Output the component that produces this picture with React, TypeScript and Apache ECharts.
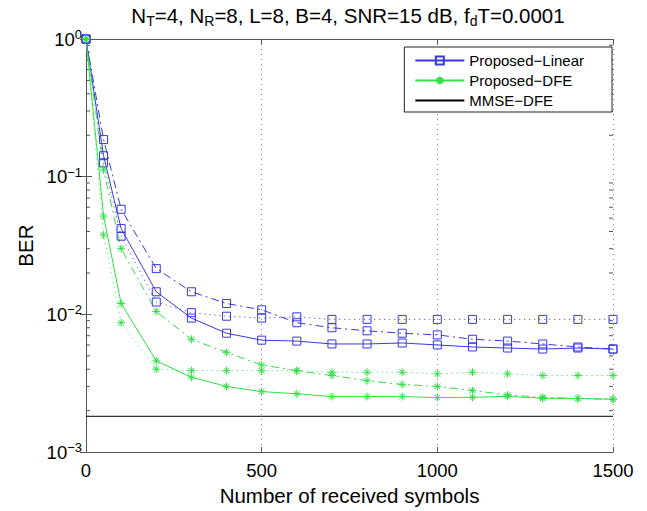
import React, { useEffect, useRef } from 'react';
import * as echarts from 'echarts';

const xValues = [0, 50, 100, 200, 300, 400, 500, 600, 700, 800, 900, 1000, 1100, 1200, 1300, 1400, 1500];
const linearSolid = [1, 0.142, 0.042, 0.0146, 0.0094, 0.0073, 0.0065, 0.0064, 0.0061, 0.0061, 0.0062, 0.006, 0.0058, 0.0057, 0.0056, 0.0057, 0.0056];
const linearDashDot = [1, 0.186, 0.058, 0.0215, 0.0146, 0.012, 0.0108, 0.0087, 0.008, 0.0076, 0.0073, 0.0071, 0.0066, 0.0064, 0.0061, 0.0058, 0.0056];
const linearDotted = [1, 0.126, 0.037, 0.0123, 0.0103, 0.0097, 0.0094, 0.0096, 0.0092, 0.0092, 0.0092, 0.0092, 0.0092, 0.0092, 0.0092, 0.0092, 0.0092];
const dfeSolid = [1, 0.0518, 0.012, 0.0046, 0.0035, 0.003, 0.00275, 0.00265, 0.00253, 0.00253, 0.00253, 0.00249, 0.0025, 0.00254, 0.00246, 0.00245, 0.00242];
const dfeDashDot = [1, 0.112, 0.03, 0.0105, 0.0066, 0.0053, 0.0043, 0.0039, 0.0036, 0.0033, 0.0031, 0.003, 0.0028, 0.0026, 0.0025, 0.00245, 0.00242];
const dfeDotted = [1, 0.0378, 0.0087, 0.004, 0.0039, 0.0039, 0.0039, 0.0039, 0.0038, 0.0038, 0.0038, 0.0037, 0.0038, 0.0037, 0.0036, 0.0036, 0.0036];
const mmseX = [0, 1500];
const mmseBer = [0.00182, 0.00182];

const xTicks = [0, 500, 1000, 1500];
const yTickExponents = [0, -1, -2, -3];
const yMinorTicks = [
  0.002, 0.003, 0.004, 0.005, 0.006, 0.007, 0.008, 0.009,
  0.02, 0.03, 0.04, 0.05, 0.06, 0.07, 0.08, 0.09,
  0.2, 0.3, 0.4, 0.5, 0.6, 0.7, 0.8, 0.9,
];
const legendNames = ['Proposed\u2212Linear', 'Proposed\u2212DFE', 'MMSE\u2212DFE'];

const FONT = '"Liberation Sans", Arial, Helvetica, sans-serif';
const BLUE = '#3a3ae0';
const GREEN = '#30e048';
const AXIS = '#555';
const STAR = 'path://M0,-1L0,1M-1,0L1,0M-0.7,-0.7L0.7,0.7M-0.7,0.7L0.7,-0.7';

function pairs(xs: number[], ys: number[]) {
  return xs.map((x, i) => [x, ys[i]]);
}

function lineSeries(name: string, ys: number[], color: string, dash: any, symbol: string) {
  return {
    name,
    type: 'line',
    data: pairs(xValues, ys),
    symbol,
    symbolSize: 8,
    showSymbol: true,
    lineStyle: { color, width: 1, type: dash },
    itemStyle: {
      color: symbol === 'rect' ? 'rgba(0,0,0,0)' : color,
      borderColor: color,
      borderWidth: 1,
    },
    emphasis: { disabled: true },
    z: 3,
  };
}

export default function App() {
  const ref = useRef<HTMLDivElement>(null);
  useEffect(() => {
    if (!ref.current) return;
    const chart = echarts.init(ref.current, null, { renderer: 'svg' });
    const expLabel = (e: number) => (e < 0 ? '\u2212' + Math.abs(e) : String(e));
    chart.setOption({
      animation: false,
      backgroundColor: '#fff',
      textStyle: { fontFamily: FONT },
      grid: { left: 86, right: 34, top: 39, bottom: 54, containLabel: false },
      graphic: [
        {
          type: 'text',
          x: 348,
          y: 15,
          style: {
            text: '{m|N}{s|T}{m|=4, N}{s|R}{m|=8, L=8, B=4, SNR=15 dB, f}{s|d}{m|T=0.0001}',
            align: 'center',
            verticalAlign: 'middle',
            rich: {
              m: { fontSize: 20.5, lineHeight: 26, fontFamily: FONT, fill: '#000', color: '#000' },
              s: { fontSize: 14, lineHeight: 8, verticalAlign: 'bottom', fontFamily: FONT, fill: '#000', color: '#000' },
            },
          },
        },
      ],
      legend: {
        data: legendNames,
        orient: 'vertical',
        right: 35,
        top: 47,
        itemWidth: 49,
        itemHeight: 10,
        itemGap: 5,
        padding: [6, 28, 4, 10],
        borderColor: '#222',
        borderWidth: 1,
        borderRadius: 0,
        backgroundColor: '#fff',
        textStyle: { fontSize: 15, fontFamily: FONT, color: '#000' },
        selectedMode: false,
      },
      xAxis: [
        {
          type: 'value',
          min: 0,
          max: 1500,
          interval: 500,
          name: 'Number of received symbols',
          nameLocation: 'middle',
          nameGap: 31,
          nameTextStyle: { fontSize: 20.5, fontFamily: FONT, color: '#000' },
          axisLine: { show: true, lineStyle: { color: AXIS, width: 1 } },
          axisTick: { show: true, inside: true, length: 5, lineStyle: { color: AXIS } },
          axisLabel: {
            fontSize: 18.5,
            fontFamily: FONT,
            color: '#000',
            margin: 9,
            formatter: (v: number) => (xTicks.includes(v) ? String(v) : ''),
          },
          splitLine: { show: true, lineStyle: { color: '#888', type: [1, 4], width: 1 } },
        },
        {
          type: 'value',
          position: 'top',
          min: 0,
          max: 1500,
          interval: 500,
          axisLine: { show: true, lineStyle: { color: AXIS, width: 1 } },
          axisTick: { show: true, inside: true, length: 5, lineStyle: { color: AXIS } },
          axisLabel: { show: false },
          splitLine: { show: false },
        },
      ],
      yAxis: [
        {
          type: 'log',
          logBase: 10,
          min: 0.001,
          max: 1,
          name: 'BER',
          nameLocation: 'middle',
          nameGap: 48,
          nameTextStyle: { fontSize: 20.5, fontFamily: FONT, color: '#000' },
          axisLine: { show: true, lineStyle: { color: AXIS, width: 1 } },
          axisTick: { show: true, inside: true, length: 6, lineStyle: { color: AXIS } },
          axisLabel: {
            margin: 4,
            formatter: (v: number) => {
              const e = Math.round(Math.log10(v));
              if (!yTickExponents.includes(e)) return '';
              return '{b|10}{e|' + expLabel(e) + '}';
            },
            rich: {
              b: { fontSize: 18.5, lineHeight: 22, fontFamily: FONT, color: '#000' },
              e: { fontSize: 13, lineHeight: 8, verticalAlign: 'top', fontFamily: FONT, color: '#000' },
            },
          },
          splitLine: { show: false },
        },
        {
          type: 'log',
          logBase: 10,
          min: 0.001,
          max: 1,
          position: 'right',
          axisLine: { show: true, lineStyle: { color: AXIS, width: 1 } },
          axisTick: { show: true, inside: true, length: 6, lineStyle: { color: AXIS } },
          axisLabel: { show: false },
          splitLine: { show: false },
        },
      ],
      series: [
        {
          name: 'minorTicks',
          type: 'custom',
          silent: true,
          z: 1,
          data: yMinorTicks.map((v) => [0, v]),
          renderItem: (params: any, api: any) => {
            const v = api.value(1);
            const l = api.coord([0, v]);
            const r = api.coord([1500, v]);
            const st = { stroke: AXIS, lineWidth: 1 };
            return {
              type: 'group',
              children: [
                { type: 'line', shape: { x1: l[0], y1: l[1], x2: l[0] + 4, y2: l[1] }, style: st },
                { type: 'line', shape: { x1: r[0] - 4, y1: r[1], x2: r[0], y2: r[1] }, style: st },
              ],
            };
          },
        },
        {
          name: legendNames[2],
          type: 'line',
          data: pairs(mmseX, mmseBer),
          symbol: 'none',
          lineStyle: { color: '#000', width: 1 },
          itemStyle: { color: 'rgba(0,0,0,0)', borderColor: 'rgba(0,0,0,0)' },
          z: 2,
        },
        lineSeries(legendNames[0], linearSolid, BLUE, 'solid', 'rect'),
        lineSeries('linearDashDot', linearDashDot, BLUE, [8, 4, 2, 4], 'rect'),
        lineSeries('linearDotted', linearDotted, BLUE, [1, 4], 'rect'),
        lineSeries(legendNames[1], dfeSolid, GREEN, 'solid', STAR),
        lineSeries('dfeDashDot', dfeDashDot, GREEN, [8, 4, 2, 4], STAR),
        lineSeries('dfeDotted', dfeDotted, GREEN, [1, 4], STAR),
      ],
    });
    return () => chart.dispose();
  }, []);
  return <div ref={ref} style={{ position: 'absolute', left: 0, top: 0, width: 647, height: 511 }} />;
}
